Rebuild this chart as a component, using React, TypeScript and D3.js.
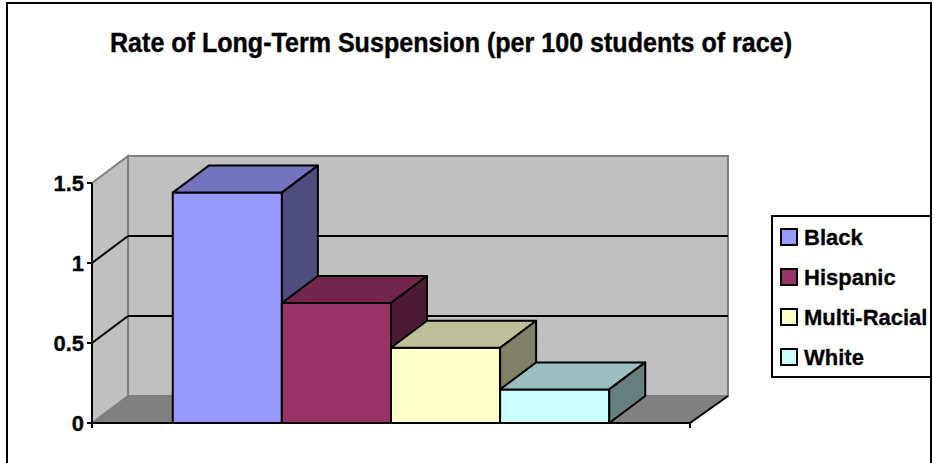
import React from "react";
import * as d3 from "d3";

const title = "Rate of Long-Term Suspension (per 100 students of race)";
const series = ["Black", "Hispanic", "Multi-Racial", "White"];
const values = [1.44, 0.75, 0.47, 0.21];
const yTicks = [0, 0.5, 1, 1.5];
const yTickLabels = ["0", "0.5", "1", "1.5"];
const palette = ["#9999FF", "#993366", "#FFFFCC", "#CCFFFF"];

const W = 933, H = 463;
const floorLeft = 92, floorRight = 690;
const yBase = 423, yTop = 183;
const dx = 36, dy = -27; // depth offset of the 3D box

const App = () => {
  const y = d3.scaleLinear().domain([0, 1.5]).range([yBase, yTop]);
  const x = d3.scaleBand<string>()
    .domain(series)
    .range([floorLeft, floorRight])
    .paddingInner(0)
    .paddingOuter(0.74);

  const poly = (pts: [number, number][]) => d3.line()(pts.concat([pts[0]])) + "Z";
  const shade = (c: string, k: number) => {
    const r = d3.rgb(c);
    return d3.rgb(r.r * k, r.g * k, r.b * k).formatHex();
  };

  const backL = floorLeft + dx, backR = floorRight + dx + 2;

  return (
    <svg width={W} height={H} style={{ position: "absolute", left: 0, top: 0, fontFamily: "Arial, 'Liberation Sans', sans-serif" }}>
      <rect x={0} y={0} width={W} height={H} fill="#fff" />
      <rect x={7} y={3} width={924} height={470} fill="none" stroke="#000" strokeWidth={2} />

      <text x={451} y={52} fontSize={27} fontWeight="bold" textAnchor="middle" stroke="#000" strokeWidth={0.4}
        textLength={682} lengthAdjust="spacingAndGlyphs">{title}</text>

      {/* walls */}
      <path d={poly([[floorLeft, y(1.5)], [backL, y(1.5) + dy], [backL, yBase + dy], [floorLeft, yBase]])}
        fill="#c0c0c0" stroke="#808080" strokeWidth={2} />
      <rect x={backL} y={y(1.5) + dy} width={backR - backL} height={yBase - y(1.5)}
        fill="#c0c0c0" stroke="#808080" strokeWidth={2} />
      <path d={poly([[floorLeft, yBase], [backL, yBase + dy], [backR, yBase + dy], [floorRight, yBase]])}
        fill="#808080" stroke="#808080" strokeWidth={1} />
      <line x1={floorRight} y1={yBase} x2={backR} y2={yBase + dy} stroke="#000" strokeWidth={2} />

      {/* gridlines */}
      {yTicks.filter(t => t > 0 && t < 1.5).map(t => (
        <g key={t}>
          <line x1={floorLeft} y1={y(t)} x2={backL} y2={y(t) + dy} stroke="#000" strokeWidth={2} />
          <line x1={backL} y1={y(t) + dy} x2={backR} y2={y(t) + dy} stroke="#000" strokeWidth={2} />
        </g>
      ))}

      {/* axes */}
      <line x1={floorLeft} y1={y(1.5)} x2={floorLeft} y2={yBase} stroke="#000" strokeWidth={2} />
      <line x1={floorLeft} y1={yBase} x2={floorRight} y2={yBase} stroke="#000" strokeWidth={2} />
      <line x1={floorRight} y1={yBase} x2={floorRight} y2={yBase + 5} stroke="#000" strokeWidth={2} />
      <line x1={floorLeft} y1={yBase} x2={floorLeft} y2={yBase + 5} stroke="#000" strokeWidth={2} />
      {yTicks.map((t, i) => (
        <g key={t}>
          <line x1={floorLeft - 5} y1={y(t)} x2={floorLeft} y2={y(t)} stroke="#000" strokeWidth={2} />
          <text x={84} y={y(t)} dy="0.36em" fontSize={22} fontWeight="bold" textAnchor="end"
            stroke="#000" strokeWidth={0.3}>{yTickLabels[i]}</text>
        </g>
      ))}

      {/* bars */}
      {series.map((s, i) => {
        const x0 = x(s)!, x1 = x0 + x.bandwidth();
        const yt = y(values[i]);
        const c = palette[i];
        return (
          <g key={s} stroke="#000" strokeWidth={2} strokeLinejoin="round">
            <rect x={x0} y={yt} width={x1 - x0} height={yBase - yt} fill={c} />
            <path d={poly([[x0, yt], [x0 + dx, yt + dy], [x1 + dx, yt + dy], [x1, yt]])} fill={shade(c, 0.75)} />
            <path d={poly([[x1, yt], [x1 + dx, yt + dy], [x1 + dx, yBase + dy], [x1, yBase]])} fill={shade(c, 0.5)} />
          </g>
        );
      })}

      {/* legend */}
      <rect x={772} y={216} width={159} height={161} fill="#fff" stroke="#000" strokeWidth={2} />
      {series.map((s, i) => {
        const cy = 237 + i * 40;
        return (
          <g key={s}>
            <rect x={781} y={cy - 8} width={16} height={16} fill={palette[i]} stroke="#000" strokeWidth={2} />
            <text x={804} y={cy} dy="0.36em" fontSize={22} fontWeight="bold" stroke="#000" strokeWidth={0.3}>{s}</text>
          </g>
        );
      })}
    </svg>
  );
};

export default App;
